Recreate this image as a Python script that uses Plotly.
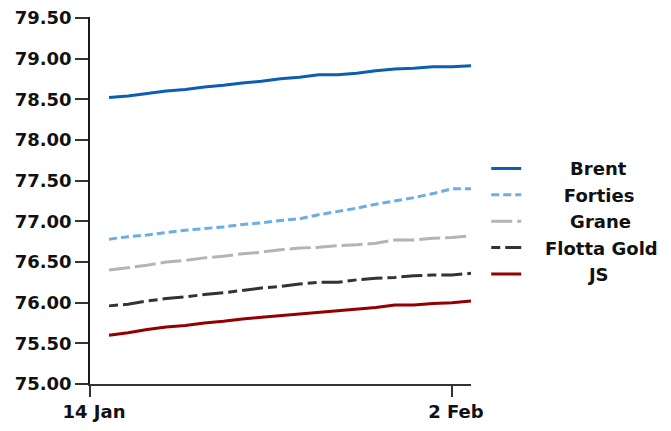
import plotly.graph_objects as go

dates = ["2024-01-15", "2024-01-16", "2024-01-17", "2024-01-18", "2024-01-19",
         "2024-01-20", "2024-01-21", "2024-01-22", "2024-01-23", "2024-01-24",
         "2024-01-25", "2024-01-26", "2024-01-27", "2024-01-28", "2024-01-29",
         "2024-01-30", "2024-01-31", "2024-02-01", "2024-02-02", "2024-02-03"]

brent = [78.52, 78.54, 78.57, 78.60, 78.62, 78.65, 78.67, 78.70, 78.72, 78.75,
         78.77, 78.80, 78.80, 78.82, 78.85, 78.87, 78.88, 78.90, 78.90, 78.91]
forties = [76.78, 76.81, 76.83, 76.86, 76.89, 76.91, 76.93, 76.96, 76.98, 77.01,
           77.03, 77.08, 77.12, 77.16, 77.21, 77.25, 77.29, 77.34, 77.40, 77.40]
grane = [76.40, 76.43, 76.46, 76.50, 76.52, 76.55, 76.57, 76.60, 76.62, 76.65,
         76.67, 76.68, 76.70, 76.71, 76.73, 76.77, 76.77, 76.79, 76.80, 76.82]
flotta_gold = [75.96, 75.98, 76.02, 76.05, 76.07, 76.10, 76.12, 76.15, 76.18, 76.20,
               76.23, 76.25, 76.25, 76.28, 76.30, 76.31, 76.33, 76.34, 76.34, 76.36]
js = [75.60, 75.63, 75.67, 75.70, 75.72, 75.75, 75.77, 75.80, 75.82, 75.84,
      75.86, 75.88, 75.90, 75.92, 75.94, 75.97, 75.97, 75.99, 76.00, 76.02]

series_names = ["Brent", "Forties", "Grane", "Flotta Gold", "JS"]
series_values = [brent, forties, grane, flotta_gold, js]
series_colors = ["#0b5fae", "#6aaee3", "#b4b4b4", "#333333", "#930000"]
series_dash = ["solid", "8px,4px", "21px,5px", "9px,5px,21px,5px", "solid"]

x_tick_vals = ["2024-01-14", "2024-02-02"]
x_tick_text = ["14 Jan", "2 Feb"]
x_range = ["2024-01-14", "2024-02-03"]
y_range = [75.0, 79.51]
y_tick_vals = [75.0, 75.5, 76.0, 76.5, 77.0, 77.5, 78.0, 78.5, 79.0, 79.5]

FONT = "DejaVu Sans"
FS = 18
TXT = "#111111"
# approximate DejaVu Sans Bold advance widths (em) for centring legend text
W = {"B": .762, "r": .493, "e": .678, "n": .712, "t": .478, "F": .575, "o": .687,
     "i": .343, "s": .595, "G": .821, "a": .675, "l": .343, "d": .716, " ": .348,
     "J": .372, "S": .720}
max_w = max(sum(W.get(c, .65) for c in n) for n in series_names)


def centred(name):
    w = sum(W.get(c, .65) for c in name)
    pad = int(round((max_w - w) / 2 / 0.348)) + 3
    return "\u00a0" * pad + name


fig = go.Figure()
for name, vals, col, dash in zip(series_names, series_values, series_colors, series_dash):
    fig.add_trace(go.Scatter(x=dates, y=vals, mode="lines", name=centred(name),
                             line=dict(color=col, width=3, dash=dash)))

# the page body has an 8px default margin, so the figure is slightly smaller
fig.update_layout(
    width=663, height=423,
    margin=dict(l=82, r=200, t=9, b=47, autoexpand=False),
    paper_bgcolor="white", plot_bgcolor="white",
    font=dict(family=FONT, size=FS, color=TXT, weight="bold"),
    showlegend=True,
    legend=dict(x=1.040, xanchor="left", y=0.637, yanchor="top",
                font=dict(family=FONT, size=FS, color=TXT, weight="bold"),
                bgcolor="rgba(0,0,0,0)", tracegroupgap=0, itemwidth=30),
)
fig.update_xaxes(range=x_range, tickvals=x_tick_vals, ticktext=x_tick_text,
                 automargin=False, ticklabelshift=4, ticklabeloverflow="allow",
                 showgrid=False, zeroline=False, showline=True, linecolor="#333333",
                 linewidth=1.5, ticks="outside", ticklen=11, tickwidth=1.5,
                 tickcolor="#333333")
fig.update_yaxes(range=y_range, tickvals=y_tick_vals, tickformat=".2f",
                 automargin=False, ticklabeloverflow="allow",
                 showgrid=False, zeroline=False, showline=True, linecolor="#1a1a1a",
                 linewidth=1.5, ticks="outside", ticklen=13, tickwidth=1.5,
                 tickcolor="#333333")

fig.write_html("out.html")
